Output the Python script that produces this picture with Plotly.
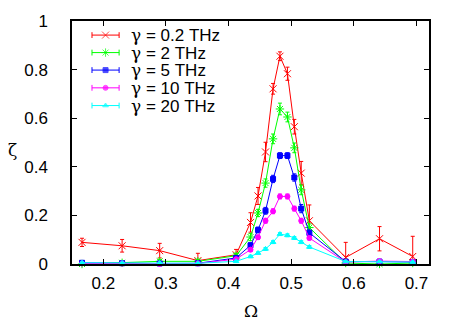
import plotly.graph_objects as go

omega = [0.166, 0.230, 0.290, 0.351, 0.412, 0.435, 0.447, 0.459, 0.471, 0.482,
         0.494, 0.505, 0.516, 0.529, 0.587, 0.641, 0.694]

zeta_02 = [0.089, 0.075, 0.055, 0.014, 0.038, 0.171, 0.280, 0.461, 0.721, 0.855,
           0.783, 0.565, 0.374, 0.178, 0.027, 0.104, 0.031]
err_02 = [0.017, 0.026, 0.030, 0.030, 0.022, 0.040, 0.035, 0.040, 0.022, 0.018,
          0.027, 0.030, 0.048, 0.065, 0.062, 0.050, 0.083]

zeta_2 = [0.000, 0.005, 0.011, 0.011, 0.034, 0.111, 0.210, 0.333, 0.515, 0.638,
          0.605, 0.478, 0.305, 0.150, 0.004, 0.000, 0.004]
err_2 = [0.005, 0.005, 0.008, 0.008, 0.010, 0.015, 0.015, 0.017, 0.020, 0.024,
         0.020, 0.020, 0.020, 0.015, 0.005, 0.005, 0.005]

zeta_5 = [0.005, 0.003, 0.002, 0.003, 0.025, 0.077, 0.140, 0.219, 0.350, 0.446,
          0.446, 0.356, 0.228, 0.128, 0.010, 0.010, 0.008]
err_5 = [0.004, 0.004, 0.004, 0.004, 0.008, 0.010, 0.012, 0.014, 0.015, 0.012,
         0.012, 0.015, 0.017, 0.012, 0.005, 0.005, 0.005]

zeta_10 = [0.002, 0.002, 0.000, 0.002, 0.020, 0.059, 0.110, 0.178, 0.217, 0.278,
           0.278, 0.228, 0.178, 0.107, 0.008, 0.012, 0.010]
err_10 = [0.003, 0.003, 0.003, 0.003, 0.006, 0.008, 0.009, 0.010, 0.010, 0.010,
          0.010, 0.010, 0.010, 0.008, 0.004, 0.004, 0.004]

zeta_20 = [0.005, 0.004, 0.004, 0.003, 0.011, 0.031, 0.045, 0.062, 0.090, 0.123,
           0.118, 0.107, 0.090, 0.070, 0.010, 0.010, 0.008]
err_20 = [0.003, 0.003, 0.003, 0.003, 0.004, 0.005, 0.005, 0.006, 0.006, 0.006,
          0.006, 0.006, 0.006, 0.006, 0.003, 0.003, 0.003]

gamma_labels = ["0.2", "2", "5", "10", "20"]
series_vals = [zeta_02, zeta_2, zeta_5, zeta_10, zeta_20]
series_errs = [err_02, err_2, err_5, err_10, err_20]
colors = ["#ff0000", "#00ff00", "#0000ff", "#ff00ff", "#00ffff"]
symbols = ["x-thin-open", "asterisk-open", "square", "circle", "triangle-up"]
sizes = [7, 7, 5, 5, 5]

x_ticks = [0.2, 0.3, 0.4, 0.5, 0.6, 0.7]
y_ticks = [0, 0.2, 0.4, 0.6, 0.8, 1]

FONT = "Liberation Sans, Arial, sans-serif"
GREEK = "DejaVu Serif, Liberation Serif, serif"

fig = go.Figure()
for vals, errs, col, sym, sz, g in zip(series_vals, series_errs, colors, symbols,
                                        sizes, gamma_labels):
    minus = [min(e, v) for e, v in zip(errs, vals)]
    fig.add_trace(go.Scatter(
        x=omega, y=vals, name="γ = %s THz" % g, mode="lines+markers",
        line=dict(color=col, width=1),
        marker=dict(symbol=sym, size=sz, color=col, line=dict(color=col, width=1)),
        error_y=dict(type="data", array=errs, arrayminus=minus, symmetric=False,
                     color=col, thickness=1, width=2),
        cliponaxis=False, showlegend=False,
    ))

# gnuplot-style key drawn on an overlay axis spanning the plot area
key_x0, key_x1, key_text_x = 0.056, 0.132, 0.162
key_rows = [0.942, 0.870, 0.798, 0.725, 0.652]
for row, col, sym, sz, g in zip(key_rows, colors, symbols, sizes, gamma_labels):
    mid = (key_x0 + key_x1) / 2
    fig.add_trace(go.Scatter(
        x=[key_x0, mid, key_x1], y=[row, row, row], xaxis="x2", yaxis="y2",
        mode="lines+markers", line=dict(color=col, width=1),
        marker=dict(symbol=sym, size=[0, sz, 0], color=col,
                    line=dict(color=col, width=1)),
        error_y=dict(type="data", array=[0.012, 0, 0.012], color=col,
                     thickness=1, width=0),
        showlegend=False, hoverinfo="skip", cliponaxis=False,
    ))
    fig.add_annotation(
        text='<span style="font-family:%s">γ</span> = %s THz' % (GREEK, g),
        xref="x2", yref="y2", x=key_text_x, y=row, xanchor="left",
        yanchor="middle", showarrow=False, borderpad=0,
        font=dict(family=FONT, size=17, color="black"))

# the page body adds an 8px margin, so the figure is 8px smaller and margins shifted
fig.update_layout(
    width=453, height=315,
    margin=dict(l=64, r=32, t=13, b=59, autoexpand=False),
    paper_bgcolor="white", plot_bgcolor="white",
    font=dict(family=FONT, size=17, color="black"),
    showlegend=False,
    xaxis2=dict(overlaying="x", range=[0, 1], visible=False),
    yaxis2=dict(overlaying="y", range=[0, 1], visible=False),
)
axis_common = dict(showgrid=False, zeroline=False, showline=True, linecolor="black",
                   linewidth=1.5, mirror="ticks", ticks="inside", ticklen=5,
                   tickwidth=1, tickcolor="black", automargin=False,
                   tickfont=dict(family=FONT, size=17, color="black"))
fig.update_layout(xaxis=dict(range=[0.15, 0.72], tickvals=x_ticks,
                             ticklabelstandoff=3, **axis_common),
                  yaxis=dict(range=[0, 1], tickvals=y_ticks,
                             ticklabelstandoff=19, **axis_common))

fig.add_annotation(text="Ω", xref="paper", yref="paper", x=0.5, y=-0.193,
                   xanchor="center", yanchor="middle", showarrow=False,
                   font=dict(family=GREEK, size=17))
fig.add_annotation(text="ζ", xref="paper", yref="paper", x=-0.168, y=0.469,
                   xanchor="center", yanchor="middle", showarrow=False,
                   font=dict(family=GREEK, size=17))

fig.write_html("out.html")
